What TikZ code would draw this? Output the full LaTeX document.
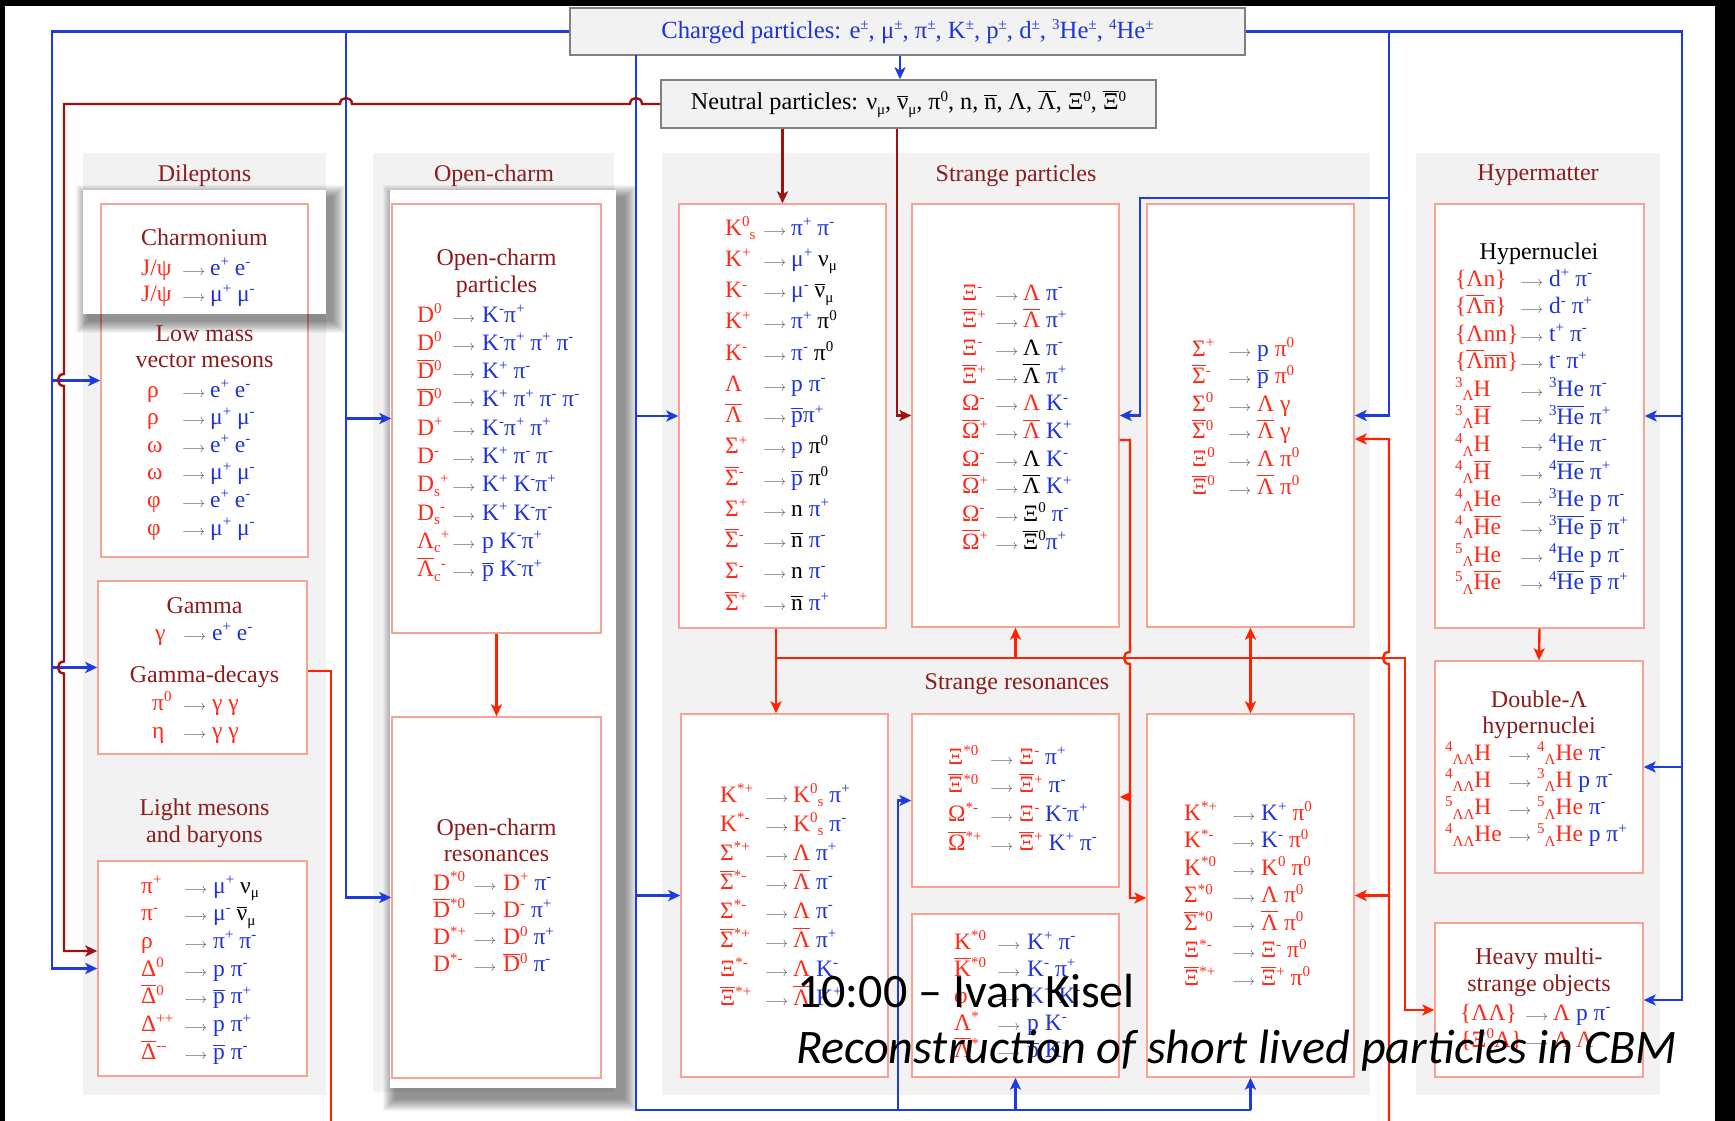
\documentclass[tikz,border=0pt]{standalone}
\usepackage{fontspec}
\setmainfont{Liberation Serif}
\newfontfamily\calib{Carlito}
\usetikzlibrary{arrows.meta,fit}
\definecolor{tred}{HTML}{FF2A1A}
\definecolor{tblue}{HTML}{1E34D8}
\definecolor{tdark}{HTML}{8C1C1C}
\definecolor{tarr}{HTML}{555555}
\definecolor{lblue}{HTML}{1F3BE0}
\definecolor{lred}{HTML}{FF2200}
\definecolor{lbrown}{HTML}{A01010}
\definecolor{panel}{HTML}{F2F2F2}
\definecolor{bord}{HTML}{F6A393}
\definecolor{hdrline}{HTML}{808080}
\newcommand\cR[1]{\textcolor{tred}{#1}}
\newcommand\cB[1]{\textcolor{tblue}{#1}}
\newcommand\sps[1]{\raisebox{8.5pt}{\fontsize{15}{15}\selectfont #1}}
\newcommand\sbs[1]{\raisebox{-4.5pt}{\fontsize{15}{15}\selectfont #1}}
\newcommand\ob[1]{\vbox{\hrule height 1pt\kern 2pt\hbox{#1}}}
\newcommand\arr{\textcolor{tarr}{\resizebox{23pt}{!}{$\longrightarrow$}}}
\newlength\pwid \newlength\awid
\newcommand\dr[2]{\hbox{\hbox to\pwid{#1\hfil}\hbox to\awid{\arr\hfil}#2}}
\newcommand\dbox[4]{\vtop{\setlength\pwid{#1}\setlength\awid{#2}\baselineskip=#3\relax\lineskiplimit=-1000pt\lineskip=0pt #4}}
\newcommand\softshadow[4]{\foreach \k in {0,...,12}{\fill[black,opacity=0.04] ({#1-\k},{#2-\k}) rectangle ({#3+\k},{#4+\k});}}
\begin{document}
\begin{tikzpicture}[x=1pt,y=-1pt,
  >={Stealth[length=12pt,width=11pt,inset=3pt]},
  bl/.style={draw=lblue, line width=2.4pt},
  bla/.style={bl, ->},
  rd/.style={draw=lred, line width=2.4pt},
  rda/.style={rd, ->},
  brn/.style={draw=lbrown, line width=2.4pt},
  brna/.style={brn, ->},
  box/.style={draw=bord, fill=white, line width=1.4pt, inner sep=0pt},
  pan/.style={fill=panel, inner sep=0pt, draw=none},
  hdr/.style={draw=hdrline, fill=panel, line width=1.4pt, inner sep=0pt},
  dec/.style={inner sep=0pt, anchor=base west, font=\fontsize{23.5}{27}\selectfont},
  ttl/.style={inner sep=0pt, anchor=base, text=tdark, font=\fontsize{24}{28}\selectfont},
  talk/.style={inner sep=0pt, anchor=base west, font=\calib\fontsize{48}{50}\selectfont}]
\useasboundingbox (0,0) rectangle (1735,1121);
\fill[white] (0,0) rectangle (1735,1121);
\fill[black] (0,0) rectangle (1735,6);
\fill[black] (0,0) rectangle (5,1121);
\fill[black] (1715,0) rectangle (1735,1121);
% panels
\node[pan, fit={(83,153)(326,1095)}] (pdil) {};
\node[pan, fit={(373,153)(614,1092)}] (poc) {};
\node[pan, fit={(662,153)(1370,1095)}] (pstr) {};
\node[pan, fit={(1416,153)(1660,1095)}] (phyp) {};
% header boxes
\node[hdr, fit={(570,8)(1245,55)}] (charged) {};
\node[hdr, fit={(661,80)(1156,128)}] (neutral) {};
% dileptons
\node[box, fit={(101,204)(308,557)}] (lowmass) {};
\softshadow{88}{197}{333}{321}
\node[fill=white, inner sep=0pt, fit={(83,190)(326,314)}] (charmcard) {};
\draw[bord, line width=1.4pt] (101,314) -- (101,204) -- (308,204) -- (308,314);
\node[box, fit={(98,581)(307,754)}] (gamma) {};
\node[box, fit={(98,861)(307,1076)}] (light) {};
% open charm
\softshadow{395}{197}{625}{1099}
\node[fill=white, inner sep=0pt, fit={(390,190)(616,1088)}] (occard) {};
\node[box, fit={(392,204)(601,633)}] (ocpart) {};
\node[box, fit={(392,717)(601,1078)}] (ocres) {};
% strange
\node[box, fit={(679,204)(886,628)}] (k0s) {};
\node[box, fit={(912,204)(1119,627)}] (xi) {};
\node[box, fit={(1147,204)(1354,627)}] (sig) {};
\node[box, fit={(681,714)(888,1077)}] (kres) {};
\node[box, fit={(912,714)(1119,887)}] (xires) {};
\node[box, fit={(912,914)(1119,1077)}] (kst0) {};
\node[box, fit={(1147,714)(1354,1077)}] (brres) {};
% hypermatter
\node[box, fit={(1435,204)(1644,628)}] (hyper) {};
\node[box, fit={(1435,661)(1643,873)}] (dlam) {};
\node[box, fit={(1435,923)(1643,1077)}] (heavy) {};

% ---------- blue connectors
\coordinate (bL) at (52,31.5);
\coordinate (bOC) at (346,31.5);
\coordinate (bS) at (636,55);
\coordinate (bB) at (636,1110);
\coordinate (bR) at (1682,31.5);
\coordinate (bS2) at (1389,31.5);
\coordinate (bXi) at (1389,198);
\draw[bla] (charged.west) -- (bL) |- (light.west);
\draw[bla] (bL |- lowmass.west) -- (lowmass.west);
\draw[bla] (bL |- gamma.west) -- (gamma.west);
\draw[bla] (bOC) |- (ocres.west);
\draw[bla] (bOC |- ocpart.west) -- (ocpart.west);
\draw[bl] (bS) |- (brres.south |- bB);
\draw[bla] (brres.south |- bB) -- (brres.south);
\draw[bla] (kst0.south |- bB) -- (kst0.south);
\draw[bla] (898,1110) |- (xires.west);
\draw[bla] (bS |- k0s.west) -- (k0s.west);
\draw[bla] (bS |- kres.west) -- (kres.west);
\draw[bla] (900,0 |- charged.south) -- (900,0 |- neutral.north);
\draw[bla] (charged.east) -- (bR) |- (heavy.east);
\draw[bla] (bR |- hyper.east) -- (hyper.east);
\draw[bla] (bR |- dlam.east) -- (dlam.east);
\draw[bla] (bS2) |- (sig.east);
\draw[bla] (bXi) -| (1140,0 |- xi.east) -- (xi.east);
% ---------- brown connectors
\draw[brna] (neutral.west) -- (642,104) .. controls (642,96) and (630,96) .. (630,104)
  -- (352,104) .. controls (352,96) and (340,96) .. (340,104) -- (64,104)
  -- (64,374) .. controls (56,374) and (56,386) .. (64,386)
  -- (64,661.5) .. controls (56,661.5) and (56,673.5) .. (64,673.5)
  -- (64,951) -- (light.west |- 64,951);
\draw[brna] (k0s.north |- neutral.south) -- (k0s.north);
\draw[brna] (897,0 |- neutral.south) |- (xi.west);
% ---------- red connectors
\coordinate (rJ) at (776,658);
\draw[rd] (gamma.east |- 0,671) -- (331,671) -- (331,1121);
\draw[rda] (ocpart.south) -- (ocres.north);
\draw[rda] (776,0 |- k0s.south) -- (776,0 |- kres.north);
\draw[rda] (rJ) -- (1405,658) -- (1405,1010) -- (heavy.west |- 0,1010);
\draw[rda] (xi.south |- rJ) -- (xi.south);
\draw[rda, <->] (sig.south) -- (brres.north);
\draw[rda] (xi.east |- 0,440) -- (1130,440) -- (1130,652) .. controls (1122,652) and (1122,664) .. (1130,664) -- (1130,898) -- (brres.west |- 0,898);
\draw[rda] (1130,797) -- (xires.east |- 0,797);
\draw[rda] (1389,1121) -- (1389,664) .. controls (1381,664) and (1381,652) .. (1389,652) -- (1389,439) -- (sig.east |- 0,439);
\draw[rda] (1389,0 |- brres.east) -- (brres.east);
\draw[rda] (hyper.south) -- (dlam.north);

% ---------- header texts
\node[inner sep=0pt, text=tblue, font=\fontsize{24.7}{28}\selectfont] (tcharged) at (charged.center)
 {Charged particles: e\sps{±}, μ\sps{±}, π\sps{±}, K\sps{±}, p\sps{±}, d\sps{±}, \sps{3}He\sps{±}, \sps{4}He\sps{±}};
\node[inner sep=0pt, font=\fontsize{24.2}{28}\selectfont] (tneutral) at (neutral.center)
 {Neutral particles: ν\sbs{μ}, \ob{ν}\sbs{μ}, π\sps{0}, n, \ob{n}, Λ, \ob{Λ}, Ξ\sps{0}, \ob{Ξ}\sps{0}};

% ---------- titles
\node[ttl] (ttdil) at (204.5,181) {Dileptons};
\node[ttl] (ttch) at (204.5,245) {Charmonium};
\node[ttl] (ttlm1) at (204.5,341) {Low mass};
\node[ttl] (ttlm2) at (204.5,367) {vector mesons};
\node[ttl] (ttg1) at (204.5,613) {Gamma};
\node[ttl] (ttg2) at (204.5,682) {Gamma-decays};
\node[ttl] (ttl1) at (204.5,815) {Light mesons};
\node[ttl] (ttl2) at (204.5,842) {and baryons};
\node[ttl] (ttoc) at (494,181) {Open-charm};
\node[ttl] (ttocp1) at (496.5,265) {Open-charm};
\node[ttl] (ttocp2) at (496.5,292) {particles};
\node[ttl] (ttocr1) at (496.5,835) {Open-charm};
\node[ttl] (ttocr2) at (496.5,861) {resonances};
\node[ttl] (ttsp) at (1016,182) {Strange particles};
\node[ttl] (ttsr) at (1017,689) {Strange resonances};
\node[ttl] (tthm) at (1538,180) {Hypermatter};
\node[ttl, text=black] (tthn) at (1539,259) {Hypernuclei};
\node[ttl] (ttdl1) at (1539,707) {Double-Λ};
\node[ttl] (ttdl2) at (1539,733) {hypernuclei};
\node[ttl] (tthv1) at (1539,964) {Heavy multi-};
\node[ttl] (tthv2) at (1539,991) {strange objects};

% ---------- decay blocks
\node[dec] (dcharm) at (141,275) {\dbox{41pt}{28pt}{26.5pt}{
 \dr{\cR{J/ψ}}{\cB{e\sps{+} e\sps{-}}}
 \dr{\cR{J/ψ}}{\cB{μ\sps{+} μ\sps{-}}}}};
\node[dec] (dlow) at (147,397) {\dbox{35pt}{28pt}{27.6pt}{
 \dr{\cR{ρ}}{\cB{e\sps{+} e\sps{-}}}
 \dr{\cR{ρ}}{\cB{μ\sps{+} μ\sps{-}}}
 \dr{\cR{ω}}{\cB{e\sps{+} e\sps{-}}}
 \dr{\cR{ω}}{\cB{μ\sps{+} μ\sps{-}}}
 \dr{\cR{φ}}{\cB{e\sps{+} e\sps{-}}}
 \dr{\cR{φ}}{\cB{μ\sps{+} μ\sps{-}}}}};
\node[dec] (dgam1) at (155,640) {\dbox{28pt}{29pt}{27pt}{
 \dr{\cR{γ}}{\cB{e\sps{+} e\sps{-}}}}};
\node[dec] (dgam2) at (152,710) {\dbox{31pt}{29pt}{28pt}{
 \dr{\cR{π\sps{0}}}{\cR{γ γ}}
 \dr{\cR{η}}{\cR{γ γ}}}};
\node[dec] (dlight) at (141,893) {\dbox{43pt}{29pt}{27.7pt}{
 \dr{\cR{π\sps{+}}}{\cB{μ\sps{+}} ν\sbs{μ}}
 \dr{\cR{π\sps{-}}}{\cB{μ\sps{-}} \ob{ν}\sbs{μ}}
 \dr{\cR{ρ}}{\cB{π\sps{+} π\sps{-}}}
 \dr{\cR{Δ\sps{0}}}{\cB{p π\sps{-}}}
 \dr{\cR{\ob{Δ}\sps{0}}}{\cB{\ob{p} π\sps{+}}}
 \dr{\cR{Δ\sps{++}}}{\cB{p π\sps{+}}}
 \dr{\cR{\ob{Δ}\sps{-{}-}}}{\cB{\ob{p} π\sps{-}}}}};
\node[dec] (docp) at (417,322) {\dbox{35pt}{30pt}{28.3pt}{
 \dr{\cR{D\sps{0}}}{\cB{K\sps{-}π\sps{+}}}
 \dr{\cR{D\sps{0}}}{\cB{K\sps{-}π\sps{+} π\sps{+} π\sps{-}}}
 \dr{\cR{\ob{D}\sps{0}}}{\cB{K\sps{+} π\sps{-}}}
 \dr{\cR{\ob{D}\sps{0}}}{\cB{K\sps{+} π\sps{+} π\sps{-} π\sps{-}}}
 \dr{\cR{D\sps{+}}}{\cB{K\sps{-}π\sps{+} π\sps{+}}}
 \dr{\cR{D\sps{-}}}{\cB{K\sps{+} π\sps{-} π\sps{-}}}
 \dr{\cR{D\sbs{s}\sps{+}}}{\cB{K\sps{+} K\sps{-}π\sps{+}}}
 \dr{\cR{D\sbs{s}\sps{-}}}{\cB{K\sps{+} K\sps{-}π\sps{-}}}
 \dr{\cR{Λ\sbs{c}\sps{+}}}{\cB{p K\sps{-}π\sps{+}}}
 \dr{\cR{\ob{Λ}\sbs{c}\sps{-}}}{\cB{\ob{p} K\sps{-}π\sps{+}}}}};
\node[dec] (docr) at (433,890) {\dbox{40pt}{30pt}{27.3pt}{
 \dr{\cR{D\sps{*0}}}{\cR{D\sps{+}} \cB{π\sps{-}}}
 \dr{\cR{\ob{D}\sps{*0}}}{\cR{D\sps{-}} \cB{π\sps{+}}}
 \dr{\cR{D\sps{*+}}}{\cR{D\sps{0}} \cB{π\sps{+}}}
 \dr{\cR{D\sps{*-}}}{\cR{\ob{D}\sps{0}} \cB{π\sps{-}}}}};
\node[dec] (dk0s) at (725,235) {\dbox{38pt}{28pt}{31.25pt}{
 \dr{\cR{K\sps{0}\sbs{s}}}{\cB{π\sps{+} π\sps{-}}}
 \dr{\cR{K\sps{+}}}{\cB{μ\sps{+}} ν\sbs{μ}}
 \dr{\cR{K\sps{-}}}{\cB{μ\sps{-}} \ob{ν}\sbs{μ}}
 \dr{\cR{K\sps{+}}}{\cB{π\sps{+}} π\sps{0}}
 \dr{\cR{K\sps{-}}}{\cB{π\sps{-}} π\sps{0}}
 \dr{\cR{Λ}}{\cB{p π\sps{-}}}
 \dr{\cR{\ob{Λ}}}{\cB{\ob{p}π\sps{+}}}
 \dr{\cR{Σ\sps{+}}}{\cB{p} π\sps{0}}
 \dr{\cR{\ob{Σ}\sps{-}}}{\cB{\ob{p}} π\sps{0}}
 \dr{\cR{Σ\sps{+}}}{n \cB{π\sps{+}}}
 \dr{\cR{\ob{Σ}\sps{-}}}{\ob{n} \cB{π\sps{-}}}
 \dr{\cR{Σ\sps{-}}}{n \cB{π\sps{-}}}
 \dr{\cR{\ob{Σ}\sps{+}}}{\ob{n} \cB{π\sps{+}}}}};
\node[dec] (dxi) at (962,300) {\dbox{33pt}{28pt}{27.67pt}{
 \dr{\cR{Ξ\sps{-}}}{\cR{Λ} \cB{π\sps{-}}}
 \dr{\cR{\ob{Ξ}\sps{+}}}{\cR{\ob{Λ}} \cB{π\sps{+}}}
 \dr{\cR{Ξ\sps{-}}}{Λ \cB{π\sps{-}}}
 \dr{\cR{\ob{Ξ}\sps{+}}}{\ob{Λ} \cB{π\sps{+}}}
 \dr{\cR{Ω\sps{-}}}{\cR{Λ} \cB{K\sps{-}}}
 \dr{\cR{\ob{Ω}\sps{+}}}{\cR{\ob{Λ}} \cB{K\sps{+}}}
 \dr{\cR{Ω\sps{-}}}{Λ \cB{K\sps{-}}}
 \dr{\cR{\ob{Ω}\sps{+}}}{\ob{Λ} \cB{K\sps{+}}}
 \dr{\cR{Ω\sps{-}}}{Ξ\sps{0} \cB{π\sps{-}}}
 \dr{\cR{\ob{Ω}\sps{+}}}{\ob{Ξ}\sps{0}\cB{π\sps{+}}}}};
\node[dec] (dsig) at (1192,356) {\dbox{36pt}{29pt}{27.6pt}{
 \dr{\cR{Σ\sps{+}}}{\cB{p} \cR{π\sps{0}}}
 \dr{\cR{\ob{Σ}\sps{-}}}{\cB{\ob{p}} \cR{π\sps{0}}}
 \dr{\cR{Σ\sps{0}}}{\cR{Λ γ}}
 \dr{\cR{\ob{Σ}\sps{0}}}{\cR{\ob{Λ} γ}}
 \dr{\cR{Ξ\sps{0}}}{\cR{Λ π\sps{0}}}
 \dr{\cR{\ob{Ξ}\sps{0}}}{\cR{\ob{Λ} π\sps{0}}}}};
\node[dec] (dkres) at (720,802) {\dbox{45pt}{28pt}{29pt}{
 \dr{\cR{K\sps{*+}}}{\cR{K\sps{0}\sbs{s}} \cB{π\sps{+}}}
 \dr{\cR{K\sps{*-}}}{\cR{K\sps{0}\sbs{s}} \cB{π\sps{-}}}
 \dr{\cR{Σ\sps{*+}}}{\cR{Λ} \cB{π\sps{+}}}
 \dr{\cR{\ob{Σ}\sps{*-}}}{\cR{\ob{Λ}} \cB{π\sps{-}}}
 \dr{\cR{Σ\sps{*-}}}{\cR{Λ} \cB{π\sps{-}}}
 \dr{\cR{\ob{Σ}\sps{*+}}}{\cR{\ob{Λ}} \cB{π\sps{+}}}
 \dr{\cR{Ξ\sps{*-}}}{\cR{Λ} \cB{K\sps{-}}}
 \dr{\cR{\ob{Ξ}\sps{*+}}}{\cR{\ob{Λ}} \cB{K\sps{+}}}}};
\node[dec] (dxires) at (948,764) {\dbox{42pt}{29pt}{28.7pt}{
 \dr{\cR{Ξ\sps{*0}}}{\cR{Ξ\sps{-}} \cB{π\sps{+}}}
 \dr{\cR{\ob{Ξ}\sps{*0}}}{\cR{\ob{Ξ}\sps{+}} \cB{π\sps{-}}}
 \dr{\cR{Ω\sps{*-}}}{\cR{Ξ\sps{-}} \cB{K\sps{-}π\sps{+}}}
 \dr{\cR{\ob{Ω}\sps{*+}}}{\cR{\ob{Ξ}\sps{+}} \cB{K\sps{+} π\sps{-}}}}};
\node[dec] (dkst0) at (954,949) {\dbox{43pt}{30pt}{27pt}{
 \dr{\cR{K\sps{*0}}}{\cB{K\sps{+} π\sps{-}}}
 \dr{\cR{\ob{K}\sps{*0}}}{\cB{K\sps{-} π\sps{+}}}
 \dr{\cR{φ}}{\cB{K\sps{+} K\sps{-}}}
 \dr{\cR{Λ\sps{*}}}{\cB{p K\sps{-}}}
 \dr{\cR{\ob{Λ}\sps{*}}}{\cB{\ob{p} K\sps{+}}}}};
\node[dec] (dbrres) at (1184,820) {\dbox{48pt}{29pt}{27.5pt}{
 \dr{\cR{K\sps{*+}}}{\cB{K\sps{+}} \cR{π\sps{0}}}
 \dr{\cR{K\sps{*-}}}{\cB{K\sps{-}} \cR{π\sps{0}}}
 \dr{\cR{K\sps{*0}}}{\cR{K\sps{0} π\sps{0}}}
 \dr{\cR{Σ\sps{*0}}}{\cR{Λ π\sps{0}}}
 \dr{\cR{\ob{Σ}\sps{*0}}}{\cR{\ob{Λ} π\sps{0}}}
 \dr{\cR{Ξ\sps{*-}}}{\cR{Ξ\sps{-} π\sps{0}}}
 \dr{\cR{\ob{Ξ}\sps{*+}}}{\cR{\ob{Ξ}\sps{+} π\sps{0}}}}};
\node[dec] (dhyper) at (1455,286) {\dbox{65pt}{29pt}{27.6pt}{
 \dr{\cR{\{Λn\}}}{\cB{d\sps{+} π\sps{-}}}
 \dr{\cR{\{\ob{Λ}\ob{n}\}}}{\cB{d\sps{-} π\sps{+}}}
 \dr{\cR{\{Λnn\}}}{\cB{t\sps{+} π\sps{-}}}
 \dr{\cR{\{\ob{Λ}\ob{nn}\}}}{\cB{t\sps{-} π\sps{+}}}
 \dr{\cR{\sps{3}\sbs{Λ}H}}{\cB{\sps{3}He π\sps{-}}}
 \dr{\cR{\sps{3}\sbs{Λ}\ob{H}}}{\cB{\sps{3}\ob{He} π\sps{+}}}
 \dr{\cR{\sps{4}\sbs{Λ}H}}{\cB{\sps{4}He π\sps{-}}}
 \dr{\cR{\sps{4}\sbs{Λ}\ob{H}}}{\cB{\sps{4}\ob{He} π\sps{+}}}
 \dr{\cR{\sps{4}\sbs{Λ}He}}{\cB{\sps{3}He p π\sps{-}}}
 \dr{\cR{\sps{4}\sbs{Λ}\ob{He}}}{\cB{\sps{3}\ob{He} \ob{p} π\sps{+}}}
 \dr{\cR{\sps{5}\sbs{Λ}He}}{\cB{\sps{4}He p π\sps{-}}}
 \dr{\cR{\sps{5}\sbs{Λ}\ob{He}}}{\cB{\sps{4}\ob{He} \ob{p} π\sps{+}}}}};
\node[dec] (ddlam) at (1445,760) {\dbox{63pt}{29pt}{27.3pt}{
 \dr{\cR{\sps{4}\sbs{ΛΛ}H}}{\cR{\sps{4}\sbs{Λ}He} \cB{π\sps{-}}}
 \dr{\cR{\sps{4}\sbs{ΛΛ}H}}{\cR{\sps{3}\sbs{Λ}H} \cB{p π\sps{-}}}
 \dr{\cR{\sps{5}\sbs{ΛΛ}H}}{\cR{\sps{5}\sbs{Λ}He} \cB{π\sps{-}}}
 \dr{\cR{\sps{4}\sbs{ΛΛ}He}}{\cR{\sps{5}\sbs{Λ}He} \cB{p π\sps{+}}}}};
\node[dec] (dheavy) at (1460,1020) {\dbox{65pt}{28pt}{27pt}{
 \dr{\cR{\{ΛΛ\}}}{\cR{Λ} \cB{p π\sps{-}}}
 \dr{\cR{\{Ξ\sps{0}Λ\}}}{\cR{Λ Λ}}}};

% ---------- overlay talk text
\node[talk] (talk1) at (797,1007) {10:00 – Ivan Kisel};
\node[talk, font=\calib\itshape\fontsize{48.2}{50}\selectfont] (talk2) at (796,1063) {Reconstruction of short lived particles in CBM};
\end{tikzpicture}
\end{document}
